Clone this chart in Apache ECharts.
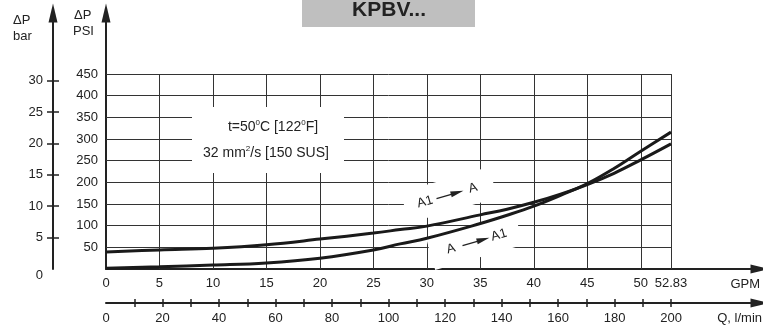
<!DOCTYPE html>
<html>
<head>
<meta charset="utf-8">
<script src="https://cdn.jsdelivr.net/npm/echarts@6/dist/echarts.min.js"></script>
<style>
  html, body { margin: 0; padding: 0; background: #fff; }
  #chart { width: 763px; height: 327px; }
</style>
</head>
<body>
<div id="chart"></div>
<script>
// flow in GPM and pressure drop in PSI
const gpm = [0, 5, 10, 15, 20, 25, 27.5, 30, 35, 37.5, 40, 42.5, 45, 47.5, 50, 52.83]
const dpA1toA = [39, 44, 48, 56, 69, 83, 91, 99, 125, 138, 154, 173, 195, 221, 252, 289]
const dpAtoA1 = [2, 5, 9, 14, 25, 44, 58, 71, 105, 124, 145, 170, 197, 232, 272, 316]

// tick labels
const gpmTicks = [0, 5, 10, 15, 20, 25, 30, 35, 40, 45, 50, 52.83]
const psiTicks = [50, 100, 150, 200, 250, 300, 350, 400, 450]
const barTicks = [0, 5, 10, 15, 20, 25, 30]
const qTicks = [0, 20, 40, 60, 80, 100, 120, 140, 160, 180, 200]
const qMinorTicks = [10, 20, 30, 40, 50, 60, 70, 80, 90, 100, 110, 120, 130, 140, 150, 160, 170, 180, 190, 200]

const PSI_PER_BAR = 14.5038
const GPM_MAX = 52.83
const Q_MAX = 200

// axes run past the plotted area so the arrow heads sit where the drawing has them
const xMax = 61.15
const yMax = 591

const font = 'Arial, "Liberation Sans", sans-serif'
const ink = '#222'

const chart = echarts.init(document.getElementById('chart'), null, { renderer: 'canvas' })

const hLines = psiTicks.map((v) => [{ coord: [0, v] }, { coord: [GPM_MAX, v] }])
const vLines = gpmTicks.slice(1).map((g) => [{ coord: [g, 0] }, { coord: [g, psiTicks[psiTicks.length - 1]] }])

const arrowLine = {
  show: true,
  onZero: false,
  lineStyle: { color: ink, width: 2 },
  symbol: ['none', 'triangle'],
  symbolSize: [9, 19],
}
const noLine = { show: false, onZero: false }

const label = (extra) => Object.assign({ color: ink, fontSize: 13, fontFamily: font }, extra)

const arrowLabel = (cx, cy, left, right) => ({
  type: 'group',
  x: cx,
  y: cy,
  rotation: 0.28,
  z: 2,
  children: [
    { type: 'rect', shape: { x: -46, y: -16, width: 92, height: 32 }, style: { fill: '#fff' }, z: 2 },
    { type: 'text', x: -25, y: 0, z: 4, style: { text: left, fill: ink, font: '13px ' + font, align: 'center', verticalAlign: 'middle' } },
    { type: 'line', shape: { x1: -13, y1: 0, x2: 6, y2: 0 }, style: { stroke: ink, lineWidth: 1.2 }, z: 4 },
    { type: 'polygon', shape: { points: [[2, -3], [15, 0], [2, 3]] }, style: { fill: ink }, z: 4 },
    { type: 'text', x: 25, y: 0, z: 4, style: { text: right, fill: ink, font: '13px ' + font, align: 'center', verticalAlign: 'middle' } },
  ],
})

const option = {
  animation: false,
  textStyle: { fontFamily: font },
  grid: { left: 106, right: 3, top: 13, bottom: 58, outerBoundsMode: 'none' },
  xAxis: [
    {
      type: 'value',
      position: 'bottom',
      min: 0,
      max: xMax,
      axisLine: arrowLine,
      axisTick: { show: false },
      splitLine: { show: false },
      axisLabel: label({ customValues: gpmTicks, margin: 8 }),
    },
    {
      type: 'value',
      position: 'bottom',
      offset: 34,
      min: 0,
      max: xMax * Q_MAX / GPM_MAX,
      axisLine: arrowLine,
      axisTick: { show: true, customValues: qMinorTicks, length: 4, lineStyle: { color: ink, width: 1.5 } },
      splitLine: { show: false },
      axisLabel: label({ customValues: qTicks, margin: 9 }),
    },
    {
      type: 'value',
      position: 'bottom',
      offset: 34,
      min: 0,
      max: xMax * Q_MAX / GPM_MAX,
      axisLine: noLine,
      axisTick: { show: true, inside: true, customValues: qMinorTicks, length: 4, lineStyle: { color: ink, width: 1.5 } },
      splitLine: { show: false },
      axisLabel: { show: false },
    },
  ],
  yAxis: [
    {
      type: 'value',
      position: 'left',
      min: 0,
      max: yMax,
      axisLine: arrowLine,
      axisTick: { show: false },
      splitLine: { show: false },
      axisLabel: label({ customValues: psiTicks, margin: 8 }),
    },
    {
      type: 'value',
      position: 'left',
      offset: 53,
      min: 0,
      max: yMax / PSI_PER_BAR,
      axisLine: arrowLine,
      axisTick: { show: true, customValues: barTicks.slice(1), length: 6, lineStyle: { color: ink, width: 1.5 } },
      splitLine: { show: false },
      axisLabel: label({
        customValues: barTicks,
        margin: 10,
        formatter: (v) => (v === 0 ? '{z|0}' : String(v)),
        rich: { z: { padding: [12, 0, 0, 0], fontSize: 13, color: ink } },
      }),
    },
    {
      type: 'value',
      position: 'left',
      offset: 53,
      min: 0,
      max: yMax / PSI_PER_BAR,
      axisLine: noLine,
      axisTick: { show: true, inside: true, customValues: barTicks.slice(1), length: 6, lineStyle: { color: ink, width: 1.5 } },
      splitLine: { show: false },
      axisLabel: { show: false },
    },
  ],
  series: [
    {
      name: 'grid',
      type: 'line',
      data: [],
      z: 1,
      silent: true,
      markLine: {
        z: 1,
        silent: true,
        symbol: ['none', 'none'],
        label: { show: false },
        lineStyle: { color: '#333', width: 1, type: 'solid' },
        emphasis: { disabled: true },
        data: hLines.concat(vLines),
      },
    },
    {
      name: 'A1 → A',
      type: 'line',
      z: 3,
      smooth: 0.4,
      showSymbol: false,
      data: gpm.map((g, i) => [g, dpA1toA[i]]),
      lineStyle: { color: '#1a1a1a', width: 3 },
    },
    {
      name: 'A → A1',
      type: 'line',
      z: 3,
      smooth: 0.4,
      showSymbol: false,
      data: gpm.map((g, i) => [g, dpAtoA1[i]]),
      lineStyle: { color: '#1a1a1a', width: 3 },
    },
  ],
  graphic: {
    elements: [
      // title plate
      { type: 'rect', shape: { x: 302, y: -2, width: 173, height: 29 }, style: { fill: '#bfbfbf' }, z: 1 },
      { type: 'text', x: 389, y: 10, z: 2, style: { text: 'KPBV...', fill: ink, font: 'bold 21px ' + font, align: 'center', verticalAlign: 'middle' } },
      // axis names
      { type: 'text', x: 13, y: 20, style: { text: 'ΔP', fill: ink, font: '13px ' + font, verticalAlign: 'middle' } },
      { type: 'text', x: 13, y: 36, style: { text: 'bar', fill: ink, font: '13px ' + font, verticalAlign: 'middle' } },
      { type: 'text', x: 74, y: 15, style: { text: 'ΔP', fill: ink, font: '13px ' + font, verticalAlign: 'middle' } },
      { type: 'text', x: 73, y: 31, style: { text: 'PSI', fill: ink, font: '13px ' + font, verticalAlign: 'middle' } },
      { type: 'text', x: 760, y: 284, style: { text: 'GPM', fill: ink, font: '13px ' + font, align: 'right', verticalAlign: 'middle' } },
      { type: 'text', x: 762, y: 318, style: { text: 'Q, l/min', fill: ink, font: '13px ' + font, align: 'right', verticalAlign: 'middle' } },
      // fluid conditions box
      { type: 'rect', shape: { x: 192, y: 107, width: 152, height: 66 }, style: { fill: '#fff' }, z: 2 },
      {
        type: 'text', x: 273, y: 127, z: 4,
        style: {
          text: 't=50{s|0}C [122{s|0}F]', fill: ink, font: '14px ' + font, align: 'center', verticalAlign: 'middle',
          rich: { s: { fontSize: 8, verticalAlign: 'top', padding: [0, 0, 8, 0], fill: ink } },
        },
      },
      {
        type: 'text', x: 266, y: 153, z: 4,
        style: {
          text: '32 mm{s|2}/s [150 SUS]', fill: ink, font: '14px ' + font, align: 'center', verticalAlign: 'middle',
          rich: { s: { fontSize: 8, verticalAlign: 'top', padding: [0, 0, 8, 0], fill: ink } },
        },
      },
      arrowLabel(449, 195, 'A1', 'A'),
      arrowLabel(475, 242, 'A', 'A1'),
    ],
  },
}

chart.setOption(option)
</script>
</body>
</html>
